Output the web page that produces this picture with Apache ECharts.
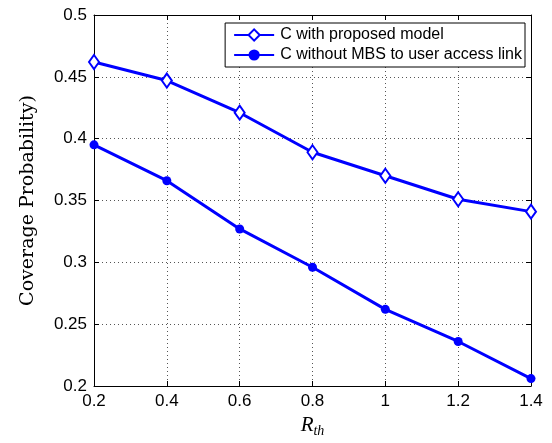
<!DOCTYPE html>
<html>
<head>
<meta charset="utf-8">
<script src="https://cdn.jsdelivr.net/npm/echarts@6/dist/echarts.min.js"></script>
<style>html,body{margin:0;padding:0;background:#fff;}#c{width:552px;height:443px;}</style>
</head>
<body>
<div id="c"></div>
<script>
var xValues = [0.2, 0.4, 0.6, 0.8, 1.0, 1.2, 1.4];
var proposed = [0.462, 0.447, 0.421, 0.389, 0.370, 0.351, 0.341];
var withoutMBS = [0.395, 0.366, 0.327, 0.296, 0.262, 0.236, 0.206];
var seriesNames = ['C with proposed model', 'C without MBS to user access link'];

function pairs(ys) { return xValues.map(function (x, i) { return [x, ys[i]]; }); }
function fmt(v) { return String(parseFloat(v.toFixed(2))); }

var chart = echarts.init(document.getElementById('c'));
var tickLbl = { color: '#000', fontFamily: 'Liberation Sans, Arial, sans-serif', fontSize: 17 };
var gridLine = { show: true, lineStyle: { color: '#555', type: [1, 3], width: 1 } };
chart.setOption({
  animation: false,
  backgroundColor: '#fff',
  grid: { left: 94, right: 21, top: 15, bottom: 51, containLabel: false },
  legend: {
    data: seriesNames,
    right: 27, top: 23,
    orient: 'vertical',
    backgroundColor: '#fff',
    borderColor: '#000', borderWidth: 1, borderRadius: 0,
    padding: [4, 3, 4, 8],
    itemGap: 4,
    itemWidth: 40, itemHeight: 14,
    textStyle: { color: '#000', fontFamily: 'Liberation Sans, Arial, sans-serif', fontSize: 16, lineHeight: 16, padding: [0, 0, 0, 1] }
  },
  xAxis: [{
    type: 'value', min: 0.2, max: 1.4, interval: 0.2,
    name: '{r|R}{s|th}', nameLocation: 'middle', nameGap: 27,
    nameTextStyle: { rich: {
      r: { fontFamily: 'Liberation Serif, serif', fontStyle: 'italic', fontSize: 21, color: '#000' },
      s: { fontFamily: 'Liberation Serif, serif', fontStyle: 'italic', fontSize: 14, color: '#000', padding: [11, 0, 0, 0] }
    } },
    axisLine: { show: true, onZero: false, lineStyle: { color: '#000', width: 1 } },
    axisTick: { show: true, inside: true, length: 5, lineStyle: { color: '#000' } },
    axisLabel: Object.assign({ margin: 7, formatter: fmt }, tickLbl),
    splitLine: gridLine
  }, {
    type: 'value', position: 'top', min: 0.2, max: 1.4, interval: 0.2,
    axisLine: { show: true, onZero: false, lineStyle: { color: '#000', width: 1 } },
    axisTick: { show: true, inside: true, length: 5, lineStyle: { color: '#000' } },
    axisLabel: { show: false }, splitLine: { show: false }
  }],
  yAxis: [{
    type: 'value', min: 0.2, max: 0.5, interval: 0.05,
    name: 'Coverage Probability)', nameLocation: 'middle', nameGap: 56,
    nameTextStyle: { fontFamily: 'DejaVu Serif, serif', fontSize: 19, color: '#000' },
    axisLine: { show: true, onZero: false, lineStyle: { color: '#000', width: 1 } },
    axisTick: { show: true, inside: true, length: 5, lineStyle: { color: '#000' } },
    axisLabel: Object.assign({ margin: 7, formatter: fmt }, tickLbl),
    splitLine: gridLine
  }, {
    type: 'value', position: 'right', min: 0.2, max: 0.5, interval: 0.05,
    axisLine: { show: true, onZero: false, lineStyle: { color: '#000', width: 1 } },
    axisTick: { show: true, inside: true, length: 5, lineStyle: { color: '#000' } },
    axisLabel: { show: false }, splitLine: { show: false }
  }],
  series: [{
    name: seriesNames[0], type: 'line', data: pairs(proposed),
    symbol: 'emptyDiamond', symbolSize: [10, 14], showAllSymbol: true,
    lineStyle: { color: '#0000ff', width: 3 },
    itemStyle: { color: '#0000ff', borderColor: '#0000ff', borderWidth: 2 }
  }, {
    name: seriesNames[1], type: 'line', data: pairs(withoutMBS),
    symbol: 'circle', symbolSize: 9, showAllSymbol: true,
    lineStyle: { color: '#0000ff', width: 3 },
    itemStyle: { color: '#0000ff' }
  }]
});
</script>
</body>
</html>
